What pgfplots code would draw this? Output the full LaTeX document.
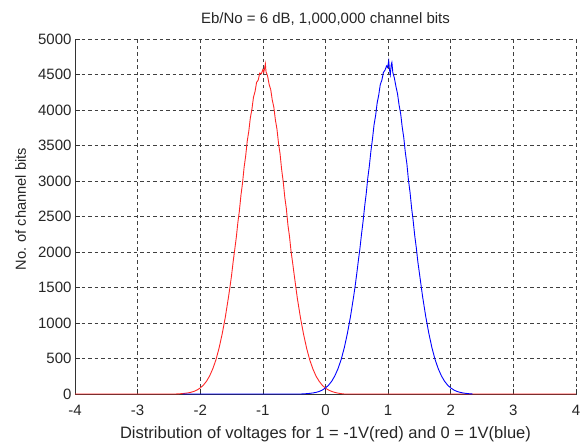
\documentclass[border=0pt]{standalone}
\usepackage{fontspec}
\setmainfont{Liberation Sans}
\usepackage{pgfplots}
\pgfplotsset{compat=1.18}

% bits sent as 1 (-1 V)
\pgfplotstableread{
x y
-4.00 0
-2.40 0
-2.35 2
-2.30 5
-2.25 9
-2.20 15
-2.15 24
-2.10 37
-2.05 57
-2.00 85
-1.95 125
-1.90 180
-1.85 255
-1.80 355
-1.75 480
-1.70 645
-1.65 845
-1.60 1080
-1.55 1360
-1.525 1510
-1.50 1670
-1.475 1860
-1.45 2030
-1.425 2200
-1.40 2410
-1.375 2580
-1.35 2800
-1.325 2970
-1.30 3190
-1.275 3350
-1.25 3560
-1.225 3700
-1.20 3890
-1.175 4010
-1.15 4180
-1.125 4260
-1.10 4390
-1.075 4420
-1.05 4520
-1.025 4510
-1.00 4570
-0.985 4530
-0.97 4600
-0.96 4650
-0.95 4540
-0.925 4480
-0.90 4360
-0.875 4290
-0.85 4140
-0.825 4040
-0.80 3860
-0.775 3730
-0.75 3530
-0.725 3380
-0.70 3160
-0.675 2990
-0.65 2770
-0.625 2610
-0.60 2380
-0.575 2220
-0.55 2010
-0.525 1850
-0.50 1680
-0.45 1350
-0.40 1075
-0.35 840
-0.30 640
-0.25 475
-0.20 350
-0.15 250
-0.10 178
-0.05 122
0.00 82
0.05 55
0.10 36
0.15 22
0.20 12
0.25 5
0.30 0
4.00 0
}\onebits

% bits sent as 0 (+1 V)
\pgfplotstableread{
x y
-2.28 0
-0.40 0
-0.35 2
-0.30 5
-0.25 9
-0.20 15
-0.15 23
-0.10 36
-0.05 56
0.00 85
0.05 125
0.10 181
0.15 257
0.20 357
0.25 485
0.30 651
0.35 855
0.40 1095
0.45 1377
0.475 1530
0.50 1700
0.525 1880
0.55 2050
0.575 2250
0.60 2430
0.625 2640
0.65 2820
0.675 3040
0.70 3210
0.725 3420
0.75 3590
0.775 3790
0.80 3920
0.825 4100
0.85 4210
0.875 4360
0.90 4420
0.925 4530
0.95 4560
0.975 4620
0.99 4600
1.01 4690
1.02 4580
1.035 4500
1.05 4640
1.06 4670
1.075 4530
1.10 4450
1.125 4330
1.15 4230
1.175 4070
1.20 3950
1.225 3760
1.25 3610
1.275 3400
1.30 3240
1.325 3010
1.35 2840
1.375 2620
1.40 2440
1.425 2230
1.45 2060
1.475 1860
1.50 1700
1.55 1375
1.60 1095
1.65 855
1.70 650
1.75 485
1.80 357
1.85 257
1.90 181
1.95 125
2.00 85
2.05 56
2.10 36
2.15 23
2.20 14
2.25 8
2.30 3
2.35 0
}\zerobits

\begin{document}
\begin{tikzpicture}
\begin{axis}[
    set layers, clip=false,
    scale only axis,
    width=501pt, height=355pt,
    xmin=-4, xmax=4, ymin=0, ymax=5000,
    xtick={-4,-3,...,4},
    ytick={0,500,...,5000},
    axis x line*=bottom, axis y line*=left,
    axis line style={-, black!80, line width=0.7pt},
    grid=major,
    grid style={black!75, dash pattern=on 3.5pt off 3pt, line width=0.7pt},
    tick align=inside, major tick length=5pt,
    tick style={black!80, line width=0.7pt},
    ticklabel style={font=\fontsize{15}{18}\selectfont, text=black!85},
    xticklabel style={anchor=base, yshift=-22pt},
    /pgf/number format/assume math mode=true,
    /pgf/number format/1000 sep={},
    title={Eb/No = 6 dB, 1,000,000 channel bits},
    title style={font=\fontsize{15}{18}\selectfont, text=black!85,
        at={(axis description cs:0.5,1)}, anchor=base, yshift=9pt},
    xlabel={Distribution of voltages for 1 = -1V(red) and 0 = 1V(blue)},
    xlabel style={font=\fontsize{16.5}{19}\selectfont, text=black!85,
        at={(axis description cs:0.5,0)}, anchor=base, yshift=-45pt},
    ylabel={No. of channel bits},
    ylabel style={font=\fontsize{14.6}{18}\selectfont, text=black!85,
        at={(axis description cs:0,0.52)}, anchor=base, yshift=49pt},
]
\addplot[red!85!white, line width=0.9pt] table[x=x, y=y] {\onebits};
\addplot[blue, line width=0.9pt] table[x=x, y=y] {\zerobits};
\end{axis}
\pgfresetboundingbox
\path (-75pt,-50pt) rectangle (511pt,394pt);
\end{tikzpicture}
\end{document}
